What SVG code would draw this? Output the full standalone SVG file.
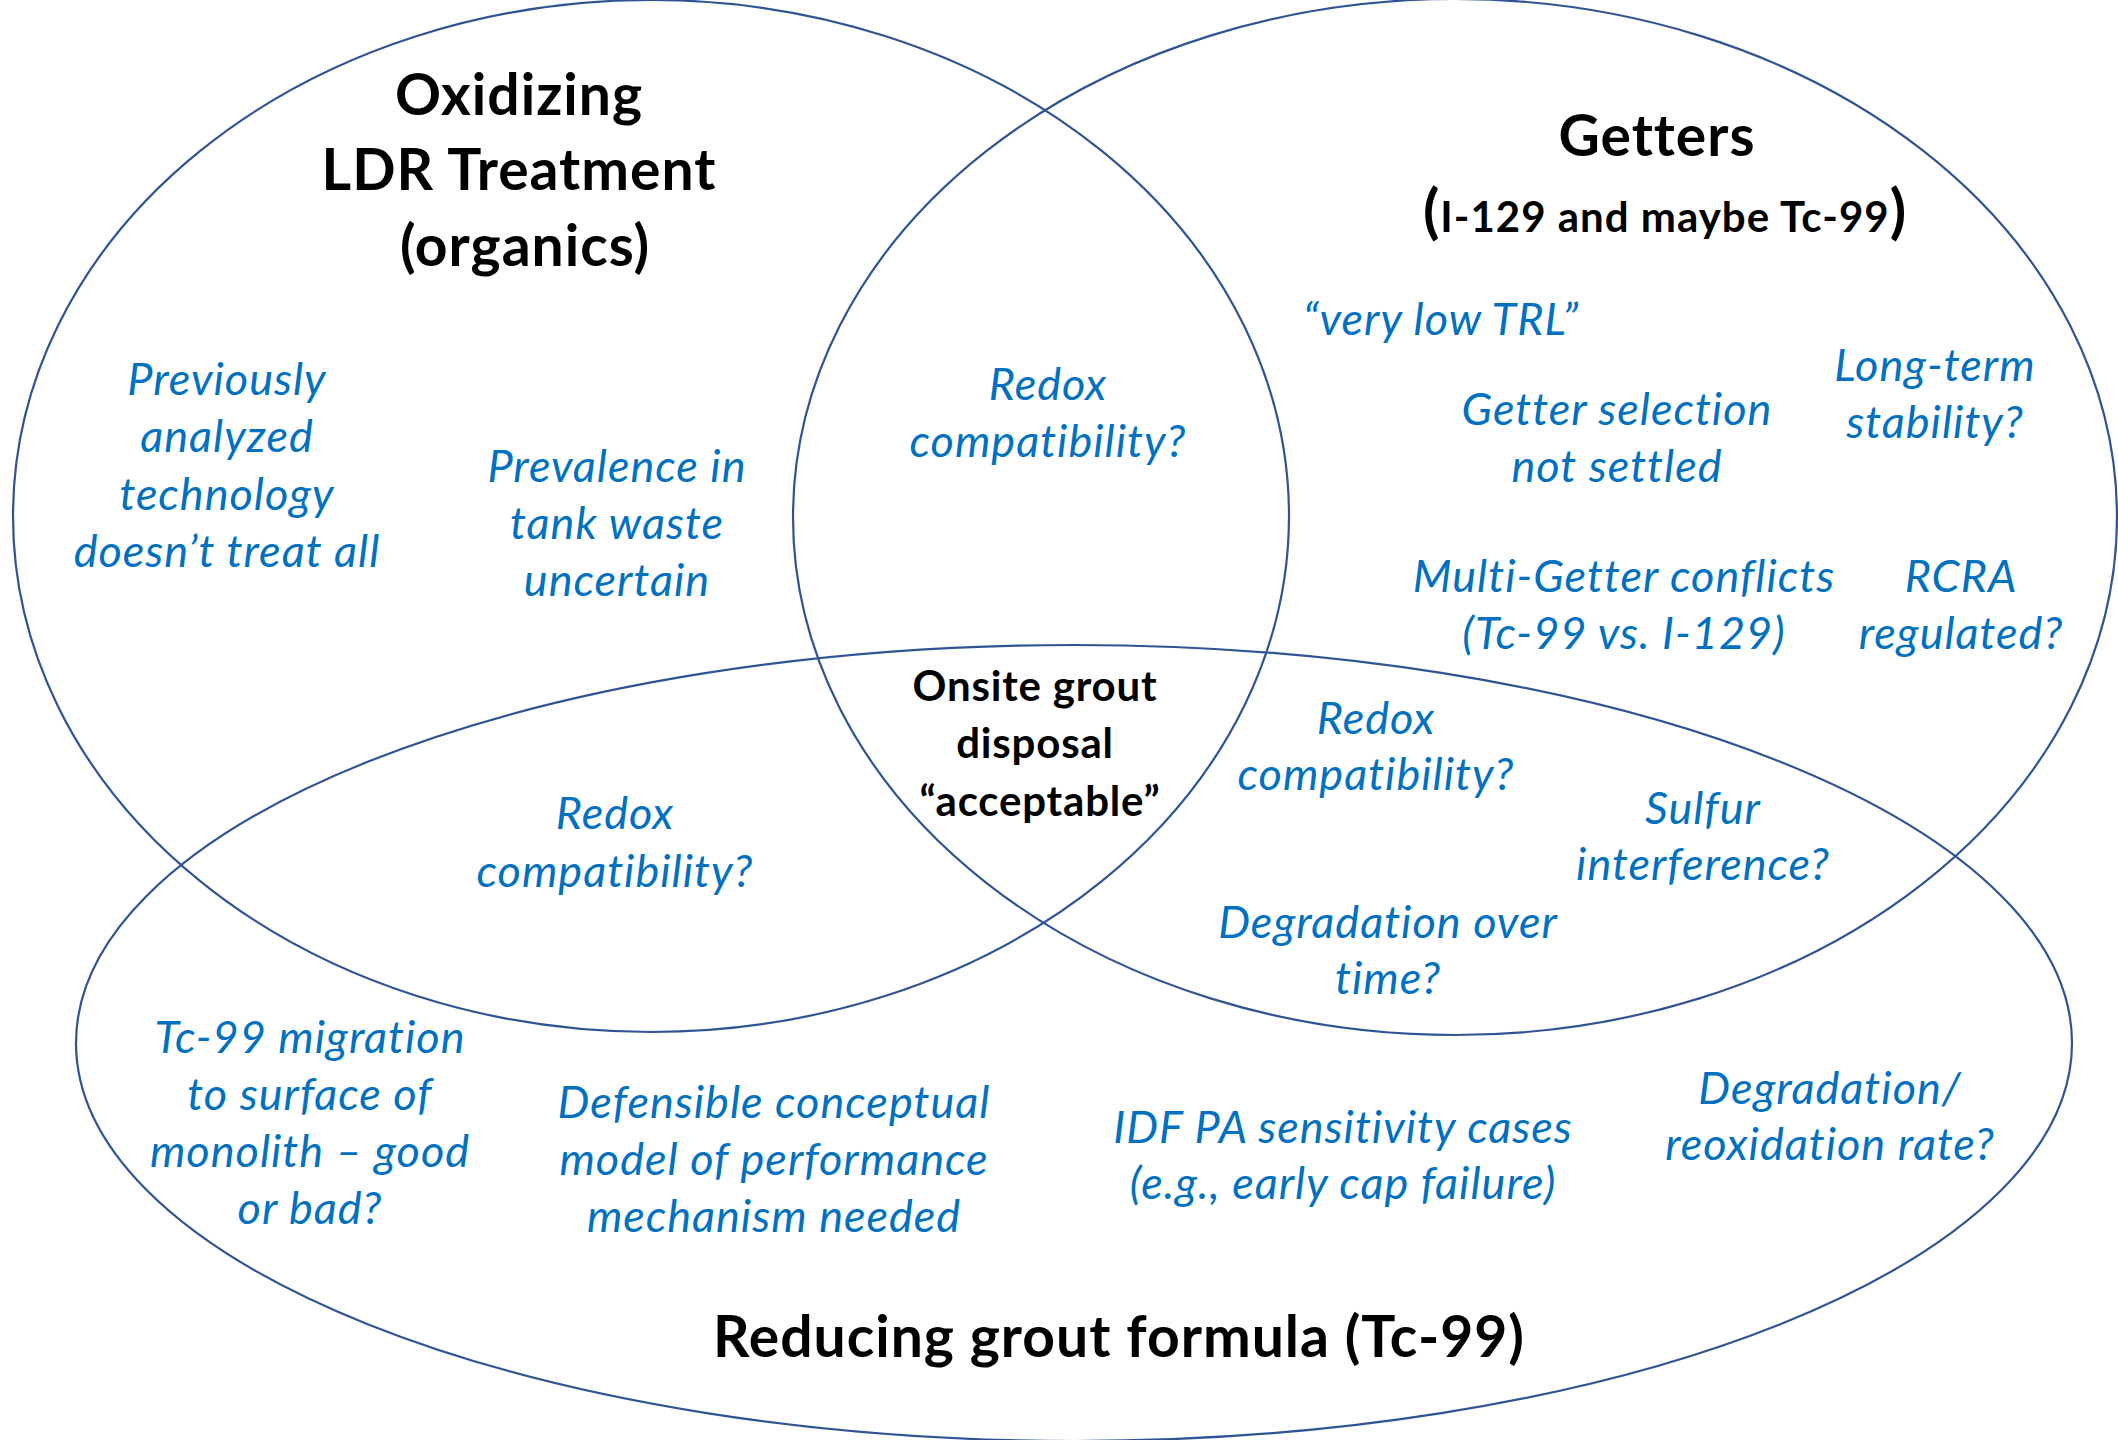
<svg xmlns="http://www.w3.org/2000/svg" width="2118" height="1440" viewBox="0 0 2118 1440">
<style>
.set{fill:none;stroke:#2F5496;stroke-width:2.2}
.t{font-family:Lato,"Liberation Sans",sans-serif;font-weight:bold;fill:#000;text-anchor:middle}
.b{font-family:Lato,"Liberation Sans",sans-serif;font-style:italic;fill:#0070C0;text-anchor:middle;font-size:45px;letter-spacing:1px}
.h{font-size:57px;letter-spacing:1px}
.c{font-size:42px;letter-spacing:0.8px}
</style>
<rect width="2118" height="1440" fill="#fff"/>
<g id="sets">
<ellipse id="oxidizing" class="set" cx="651" cy="516" rx="638" ry="516"/>
<ellipse id="getters" class="set" cx="1455" cy="517" rx="662" ry="518"/>
<ellipse id="grout" class="set" cx="1074" cy="1043" rx="998" ry="398"/>
</g>
<g id="titles">
<text class="t h" x="519" y="115">Oxidizing</text>
<text class="t h" x="519" y="190">LDR Treatment</text>
<text class="t h" x="525" y="266">(organics)</text>
<text class="t h" x="1657" y="156">Getters</text>
<text class="t" x="1665" y="232" letter-spacing="1"><tspan font-size="60">(</tspan><tspan font-size="42">I-129 and maybe Tc-99</tspan><tspan font-size="60">)</tspan></text>
<text class="t h" x="1119" y="1357">Reducing grout formula (Tc-99)</text>
</g>
<g id="center">
<text class="t c" x="1035" y="701">Onsite grout</text>
<text class="t c" x="1035" y="758">disposal</text>
<text class="t c" x="1040" y="816">“acceptable”</text>
</g>
<g id="notes">
<text class="b" x="227"><tspan x="227" y="395">Previously</tspan><tspan x="227" y="452">analyzed</tspan><tspan x="227" y="510">technology</tspan><tspan x="227" y="567">doesn’t treat all</tspan></text>
<text class="b"><tspan x="617" y="482">Prevalence in</tspan><tspan x="617" y="539">tank waste</tspan><tspan x="617" y="596">uncertain</tspan></text>
<text class="b"><tspan x="1048" y="400">Redox</tspan><tspan x="1048" y="457">compatibility?</tspan></text>
<text class="b" x="1441" y="335">“very low TRL”</text>
<text class="b"><tspan x="1617" y="425">Getter selection</tspan><tspan x="1617" y="482">not settled</tspan></text>
<text class="b"><tspan x="1935" y="381">Long-term</tspan><tspan x="1935" y="438">stability?</tspan></text>
<text class="b"><tspan x="1624" y="592">Multi-Getter conflicts</tspan><tspan x="1624" y="649">(Tc-99 vs. I-129)</tspan></text>
<text class="b"><tspan x="1961" y="592">RCRA</tspan><tspan x="1961" y="649">regulated?</tspan></text>
<text class="b"><tspan x="615" y="829">Redox</tspan><tspan x="615" y="887">compatibility?</tspan></text>
<text class="b"><tspan x="1376" y="734">Redox</tspan><tspan x="1376" y="790">compatibility?</tspan></text>
<text class="b"><tspan x="1703" y="824">Sulfur</tspan><tspan x="1703" y="880">interference?</tspan></text>
<text class="b"><tspan x="1388" y="938">Degradation over</tspan><tspan x="1388" y="994">time?</tspan></text>
<text class="b"><tspan x="310" y="1053">Tc-99 migration</tspan><tspan x="310" y="1110">to surface of</tspan><tspan x="310" y="1167">monolith – good</tspan><tspan x="310" y="1224">or bad?</tspan></text>
<text class="b"><tspan x="774" y="1118">Defensible conceptual</tspan><tspan x="774" y="1175">model of performance</tspan><tspan x="774" y="1232">mechanism needed</tspan></text>
<text class="b"><tspan x="1343" y="1143">IDF PA sensitivity cases</tspan><tspan x="1343" y="1199">(e.g., early cap failure)</tspan></text>
<text class="b"><tspan x="1830" y="1104">Degradation/</tspan><tspan x="1830" y="1160">reoxidation rate?</tspan></text>
</g>
</svg>
